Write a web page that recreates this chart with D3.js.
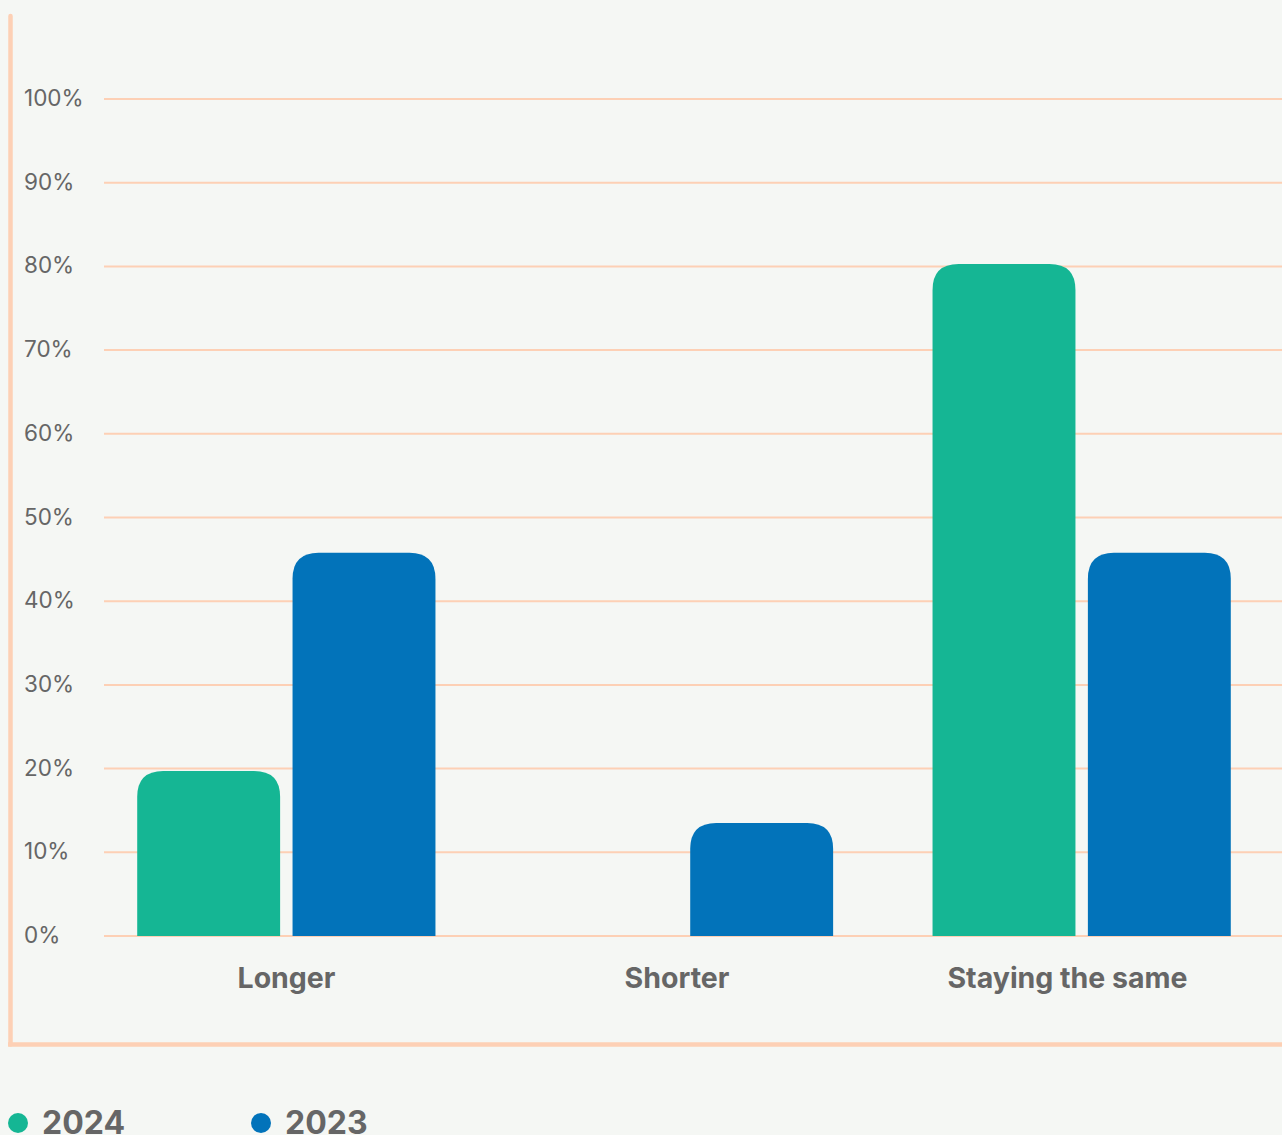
<!DOCTYPE html>
<html>
<head>
<meta charset="utf-8">
<script src="https://d3js.org/d3.v7.min.js"></script>
<style>
  body { margin: 0; background: #f5f7f4; }
  svg { display: block; font-family: Inter, "Open Sans", sans-serif; }
</style>
</head>
<body>
<div id="chart"></div>
<script>
// data
var categories = ["Longer", "Shorter", "Staying the same"];
var years = ["2024", "2023"];
var values2024 = [19.7, 0, 80.3];
var values2023 = [45.8, 13.5, 45.8];
var yTicks = [0, 10, 20, 30, 40, 50, 60, 70, 80, 90, 100];

var colors = { "2024": "#15b694", "2023": "#0273ba" };

var width = 1282, height = 1135;

var svg = d3.select("#chart").append("svg")
    .attr("width", width).attr("height", height);

svg.append("rect").attr("width", width).attr("height", height).attr("fill", "#f5f7f4");

var x0 = d3.scaleBand().domain(categories).range([87.5, 1280.5])
    .paddingInner(0.25).paddingOuter(0.125);
var x1 = d3.scaleBand().domain(years).range([0, x0.bandwidth()]).paddingInner(0.08);
var xLabel = d3.scalePoint().domain(categories).range([286.5, 1067.5]);
var y = d3.scaleLinear().domain([0, 100]).range([936, 99]);

// gridlines
svg.append("g").selectAll("line").data(yTicks).enter().append("line")
    .attr("x1", 104).attr("x2", width)
    .attr("y1", function(d) { return y(d); })
    .attr("y2", function(d) { return y(d); })
    .attr("stroke", "#fdd0b5").attr("stroke-width", 2);

// tick labels
svg.append("g").selectAll("text").data(yTicks).enter().append("text")
    .attr("x", 24)
    .attr("y", function(d) { return y(d) + 7; })
    .attr("fill", "#666").attr("font-size", 22.5)
    .text(function(d) { return d + "%"; });

// rounded top bars
function barPath(x, yTop, w, yBase, r) {
  var h = yBase - yTop;
  if (h <= 0) return "";
  r = Math.min(r, h, w / 2);
  return "M" + x + "," + yBase +
    "V" + (yTop + r) +
    "Q" + x + "," + yTop + " " + (x + r) + "," + yTop +
    "H" + (x + w - r) +
    "Q" + (x + w) + "," + yTop + " " + (x + w) + "," + (yTop + r) +
    "V" + yBase + "Z";
}

var rows = categories.map(function(c, i) {
  return { cat: c, vals: [{ year: "2024", v: values2024[i] }, { year: "2023", v: values2023[i] }] };
});

var groups = svg.append("g").selectAll("g").data(rows).enter().append("g")
    .attr("transform", function(d) { return "translate(" + x0(d.cat) + ",0)"; });

groups.selectAll("path").data(function(d) { return d.vals; }).enter().append("path")
    .attr("d", function(d) { return barPath(x1(d.year), y(d.v), x1.bandwidth(), y(0), 26); })
    .attr("fill", function(d) { return colors[d.year]; });

// category labels
svg.append("g").selectAll("text").data(categories).enter().append("text")
    .attr("x", function(d) { return xLabel(d); })
    .attr("y", 988)
    .attr("text-anchor", "middle")
    .attr("fill", "#666").attr("font-size", 28.5).attr("font-weight", 700)
    .text(function(d) { return d; });

// frame lines
svg.append("line").attr("x1", 10.5).attr("x2", 10.5).attr("y1", 16).attr("y2", 1044.5)
    .attr("stroke", "#fdd0b5").attr("stroke-width", 4.5).attr("stroke-linecap", "round");
svg.append("line").attr("x1", 8).attr("x2", width).attr("y1", 1044.5).attr("y2", 1044.5)
    .attr("stroke", "#fdd0b5").attr("stroke-width", 4.5);

// legend
var legend = svg.append("g").selectAll("g").data(years).enter().append("g")
    .attr("transform", function(d, i) { return "translate(" + (18 + i * 243) + ",1123)"; });
legend.append("circle").attr("r", 10).attr("fill", function(d) { return colors[d]; });
legend.append("text").attr("x", 24).attr("y", 11)
    .attr("fill", "#666").attr("font-size", 32).attr("font-weight", 700)
    .text(function(d) { return d; });
</script>
</body>
</html>
